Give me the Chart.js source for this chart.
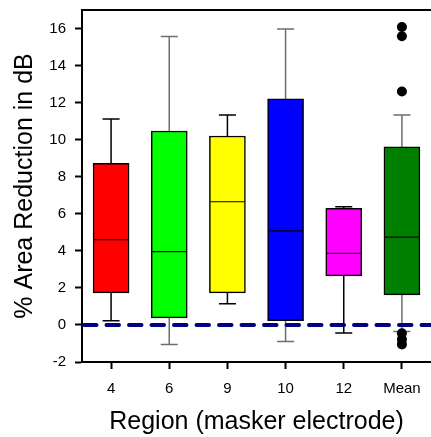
<!DOCTYPE html>
<html>
<head>
<meta charset="utf-8">
<script src="https://cdn.jsdelivr.net/npm/chart.js@4.4.1/dist/chart.umd.min.js"></script>
<style>
  html, body { margin: 0; padding: 0; background: #fff; }
</style>
</head>
<body>
<canvas id="myChart" width="431" height="437"></canvas>
<script>
// box plot values
const regions = ['4', '6', '9', '10', '12', 'Mean'];
const whiskerLow = [0.22, -1.06, 1.15, -0.9, -0.43, -0.35];
const q1 = [1.73, 0.38, 1.73, 0.23, 2.65, 1.62];
const median = [4.61, 3.96, 6.65, 5.08, 3.87, 4.74];
const q3 = [8.72, 10.47, 10.2, 12.2, 6.3, 9.62];
const whiskerHigh = [11.11, 15.57, 11.33, 15.98, 6.38, 11.33];
const meanOutliers = [16.08, 15.58, 12.6, -0.45, -0.78, -1.05];
const yTicks = [-2, 0, 2, 4, 6, 8, 10, 12, 14, 16];
const refLine = 0;

const boxColors = ['#ff0000', '#00ff00', '#ffff00', '#0000ff', '#ff00ff', '#008000'];
const whiskerColors = ['#000000', '#6e6e6e', '#000000', '#6e6e6e', '#000000', '#6e6e6e'];

const FONT = "'Liberation Sans', Arial, sans-serif";

// whiskers + caps behind the boxes, medians / zero line / top frame on top
const boxExtras = {
  id: 'boxExtras',
  beforeDatasetsDraw(chart) {
    const ctx = chart.ctx;
    const x = chart.scales.x, y = chart.scales.y;
    ctx.save();
    ctx.lineWidth = 1.5;
    regions.forEach((r, i) => {
      const px = x.getPixelForValue(i);
      const yLo = y.getPixelForValue(whiskerLow[i]);
      const yHi = y.getPixelForValue(whiskerHigh[i]);
      ctx.strokeStyle = whiskerColors[i];
      ctx.beginPath();
      ctx.moveTo(px, yLo); ctx.lineTo(px, yHi);
      ctx.moveTo(px - 8.5, yLo); ctx.lineTo(px + 8.5, yLo);
      ctx.moveTo(px - 8.5, yHi); ctx.lineTo(px + 8.5, yHi);
      ctx.stroke();
    });
    ctx.restore();
  },
  afterDatasetsDraw(chart) {
    const ctx = chart.ctx;
    const x = chart.scales.x, y = chart.scales.y;
    const area = chart.chartArea;
    ctx.save();
    ctx.strokeStyle = '#000';
    ctx.lineWidth = 1.2;
    regions.forEach((r, i) => {
      const px = x.getPixelForValue(i);
      const py = y.getPixelForValue(median[i]);
      ctx.beginPath();
      ctx.moveTo(px - 17, py); ctx.lineTo(px + 17, py);
      ctx.stroke();
    });
    // dashed zero line
    const y0 = y.getPixelForValue(refLine);
    ctx.strokeStyle = '#000080';
    ctx.lineWidth = 4;
    ctx.lineCap = 'round';
    ctx.setLineDash([12.5, 10]);
    ctx.beginPath();
    ctx.moveTo(area.left + 2, y0); ctx.lineTo(chart.width + 5, y0);
    ctx.stroke();
    ctx.setLineDash([]);
    ctx.lineCap = 'butt';
    // top frame line
    ctx.strokeStyle = '#000';
    ctx.lineWidth = 2;
    ctx.beginPath();
    ctx.moveTo(area.left - 1, area.top); ctx.lineTo(chart.width, area.top);
    ctx.stroke();
    ctx.restore();
  }
};

const ctx = document.getElementById('myChart').getContext('2d');
const myChart = new Chart(ctx, {
  type: 'bar',
  data: {
    labels: regions,
    datasets: [
      {
        label: 'IQR',
        data: regions.map((r, i) => [q1[i], q3[i]]),
        backgroundColor: boxColors,
        borderColor: '#000',
        borderWidth: 1.5,
        borderSkipped: false,
        barThickness: 36
      },
      {
        type: 'line',
        label: 'Outliers',
        data: meanOutliers.map(v => ({ x: 'Mean', y: v })),
        showLine: false,
        pointRadius: 5,
        pointBackgroundColor: '#000',
        pointBorderColor: '#000',
        pointBorderWidth: 0
      }
    ]
  },
  options: {
    responsive: false,
    animation: false,
    events: [],
    layout: { autoPadding: false, padding: { top: 10, right: 0, left: 0, bottom: 0 } },
    plugins: { legend: { display: false }, tooltip: { enabled: false } },
    scales: {
      x: {
        afterFit: s => { s.height = 75; s.paddingLeft = 0; s.paddingRight = 0; },
        grid: { display: true, drawOnChartArea: false, offset: false, tickLength: 7, tickWidth: 2, tickColor: '#000' },
        border: { display: true, color: '#000', width: 2 },
        ticks: { color: '#000', font: { family: FONT, size: 15 }, padding: 11, maxRotation: 0 },
        title: { display: true, text: 'Region (masker electrode)', color: '#000', font: { family: FONT, size: 25 }, padding: { top: 0, bottom: 0 } }
      },
      y: {
        min: -2,
        max: 17,
        afterFit: s => { s.width = 82; s.paddingTop = 0; s.paddingBottom = 0; },
        afterBuildTicks: s => { s.ticks = yTicks.map(v => ({ value: v })); },
        grid: { display: true, drawOnChartArea: false, tickLength: 7, tickWidth: 2, tickColor: '#000' },
        border: { display: true, color: '#000', width: 2 },
        ticks: { color: '#000', font: { family: FONT, size: 15 }, padding: 9 },
        title: { display: true, text: '% Area Reduction in dB', color: '#000', font: { family: FONT, size: 25 }, padding: { top: 10, bottom: 0 } }
      }
    }
  },
  plugins: [boxExtras]
});
</script>
</body>
</html>
